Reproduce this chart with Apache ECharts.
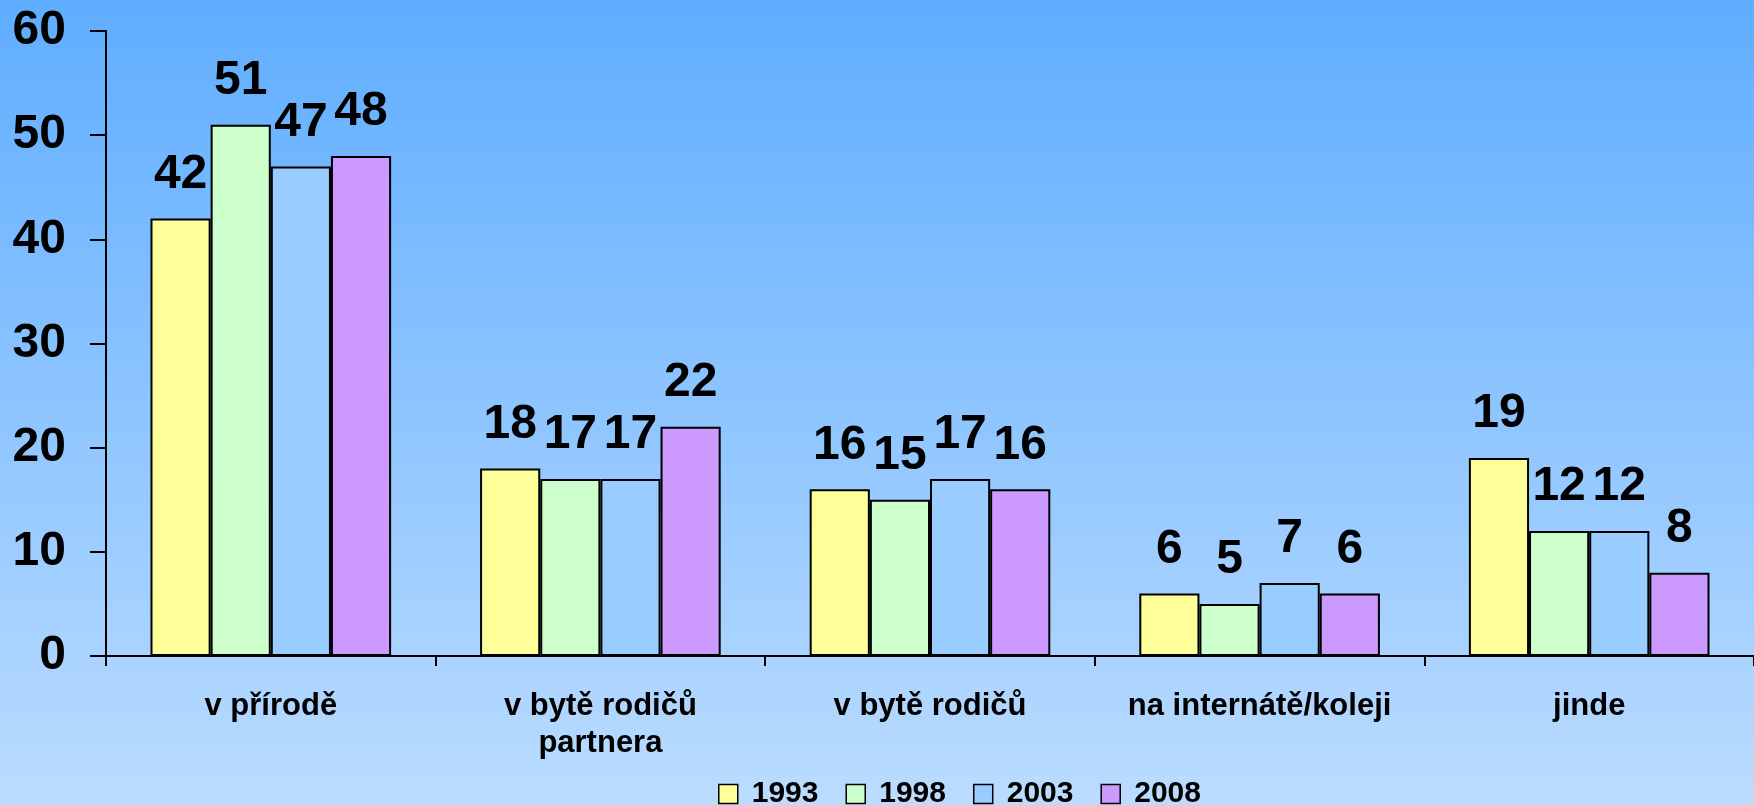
<!DOCTYPE html>
<html>
<head>
<meta charset="utf-8">
<script src="https://cdn.jsdelivr.net/npm/echarts@6/dist/echarts.min.js"></script>
<style>
html,body{margin:0;padding:0;}
#c{width:1754px;height:805px;}
</style>
</head>
<body>
<div id="c"></div>
<script>
const categories = ['v přírodě', 'v bytě rodičů\npartnera', 'v bytě rodičů', 'na internátě/koleji', 'jinde'];
const seriesNames = ['1993', '1998', '2003', '2008'];
const v1993 = [42, 18, 16, 6, 19];
const v1998 = [51, 17, 15, 5, 12];
const v2003 = [47, 17, 17, 7, 12];
const v2008 = [48, 22, 16, 6, 8];
const yTicks = [0, 10, 20, 30, 40, 50, 60];

const seriesValues = [v1993, v1998, v2003, v2008];
const colors = ['#FFFF99', '#CCFFCC', '#99CCFF', '#CC99FF'];
const FONT = '"Liberation Sans", Arial, sans-serif';

const chart = echarts.init(document.getElementById('c'), null, {renderer: 'canvas'});
chart.setOption({
  animation: false,
  backgroundColor: {
    type: 'linear', x: 0, y: 0, x2: 0, y2: 1,
    colorStops: [{offset: 0, color: '#5FADFF'}, {offset: 1, color: '#BBDCFF'}]
  },
  textStyle: {fontFamily: FONT},
  legend: {
    data: seriesNames,
    left: 713,
    top: 774,
    padding: 5,
    itemWidth: 19,
    itemHeight: 19,
    itemGap: 27,
    icon: 'rect',
    textStyle: {fontFamily: FONT, fontWeight: 'bold', fontSize: 30, color: '#000', padding: [0,0,0,9]},
    itemStyle: {borderColor: '#000', borderWidth: 1.5}
  },
  grid: {left: 106, top: 31, bottom: 149, width: 1654, containLabel: false},
  xAxis: {
    type: 'category',
    data: categories,
    axisLine: {lineStyle: {color: '#000', width: 2}},
    axisTick: {show: true, length: 10, lineStyle: {color: '#000', width: 2}, alignWithLabel: false},
    axisLabel: {
      interval: 0, margin: 32, color: '#000', fontFamily: FONT, fontWeight: 'bold',
      fontSize: 31, lineHeight: 37
    },
    splitLine: {show: false}
  },
  yAxis: {
    type: 'value',
    min: yTicks[0], max: yTicks[yTicks.length - 1], interval: 10,
    axisLine: {show: true, lineStyle: {color: '#000', width: 2}},
    axisTick: {show: true, length: 16, lineStyle: {color: '#000', width: 2}},
    axisLabel: {margin: 40, color: '#000', fontFamily: FONT, fontWeight: 'bold', fontSize: 48},
    splitLine: {show: false}
  },
  series: seriesNames.map((name, i) => ({
    name: name,
    type: 'bar',
    data: seriesValues[i],
    barGap: '0%',
    barCategoryGap: '27%',
    itemStyle: {color: colors[i], borderColor: '#000', borderWidth: 2},
    label: {
      show: true, position: 'top', distance: 20, color: '#000',
      fontFamily: FONT, fontWeight: 'bold', fontSize: 48
    }
  }))
});
</script>
</body>
</html>
